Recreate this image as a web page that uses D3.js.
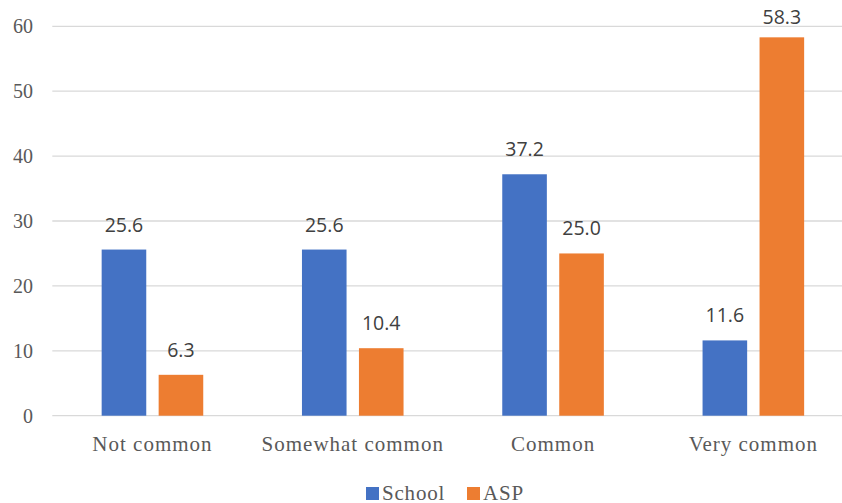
<!DOCTYPE html>
<html><head><meta charset="utf-8">
<script src="https://cdn.jsdelivr.net/npm/d3@7"></script>
<style>body{margin:0;background:#fff}svg{display:block}</style>
</head><body>
<svg id="c" width="842" height="503"></svg>
<script>
const categories = ["Not common","Somewhat common","Common","Very common"];
const series = ["School","ASP"];
const school = [25.6,25.6,37.2,11.6];
const asp = [6.3,10.4,25.0,58.3];
const yTicks = [0,10,20,30,40,50,60];
const colors = ["#4472C4","#ED7D31"];

const svg = d3.select("#c");
const y = d3.scaleLinear().domain([0,60]).range([415.7,26.3]);
const x0 = d3.scaleBand().domain(categories).range([52.3,853.5]).padding(0);
const x1 = d3.scaleBand().domain(series).range([0,x0.bandwidth()]).paddingInner(0.2175).paddingOuter(0.866);

const g = svg.append("g");
g.selectAll("line.grid").data(yTicks).join("line")
  .attr("x1",52.3).attr("x2",842).attr("y1",d=>y(d)).attr("y2",d=>y(d))
  .attr("stroke","#d9d9d9").attr("stroke-width",1.3);
g.selectAll("text.yt").data(yTicks).join("text")
  .attr("x",33).attr("y",d=>y(d)+7).attr("text-anchor","end")
  .attr("font-family","Liberation Serif").attr("font-size",20).attr("fill","#595959")
  .text(d=>d);

const data = categories.map((c,i)=>({c, vals:[school[i],asp[i]]}));
const grp = g.selectAll("g.cat").data(data).join("g").attr("transform",d=>`translate(${x0(d.c)},0)`);
grp.selectAll("rect").data(d=>d.vals.map((v,j)=>({s:series[j],v,j}))).join("rect")
  .attr("x",d=>x1(d.s)).attr("width",x1.bandwidth())
  .attr("y",d=>y(d.v)).attr("height",d=>y(0)-y(d.v)).attr("fill",d=>colors[d.j]);
grp.selectAll("text").data(d=>d.vals.map((v,j)=>({s:series[j],v,j}))).join("text")
  .attr("x",d=>x1(d.s)+x1.bandwidth()/2).attr("y",d=>Math.max(y(d.v)-18,24))
  .attr("text-anchor","middle").attr("font-family","Open Sans").attr("font-size",19.5).attr("fill","#404040")
  .text(d=>d.v.toFixed(1));

g.selectAll("text.cat").data(categories).join("text")
  .attr("x",d=>x0(d)+x0.bandwidth()/2).attr("y",451)
  .attr("text-anchor","middle").attr("font-family","Liberation Serif").attr("font-size",21)
  .attr("letter-spacing",1).attr("fill","#595959").text(d=>d);

const leg = [{s:"School",x:366},{s:"ASP",x:467}];
const lg = g.selectAll("g.leg").data(series).join("g").attr("transform",(d,i)=>`translate(${leg[i].x},0)`);
lg.append("rect").attr("x",0).attr("y",487).attr("width",13).attr("height",13).attr("fill",(d,i)=>colors[i]);
lg.append("text").attr("x",16).attr("y",499.5).attr("font-family","Liberation Serif").attr("font-size",21)
  .attr("letter-spacing",0.8).attr("fill","#595959").text(d=>d);
</script>
</body></html>
